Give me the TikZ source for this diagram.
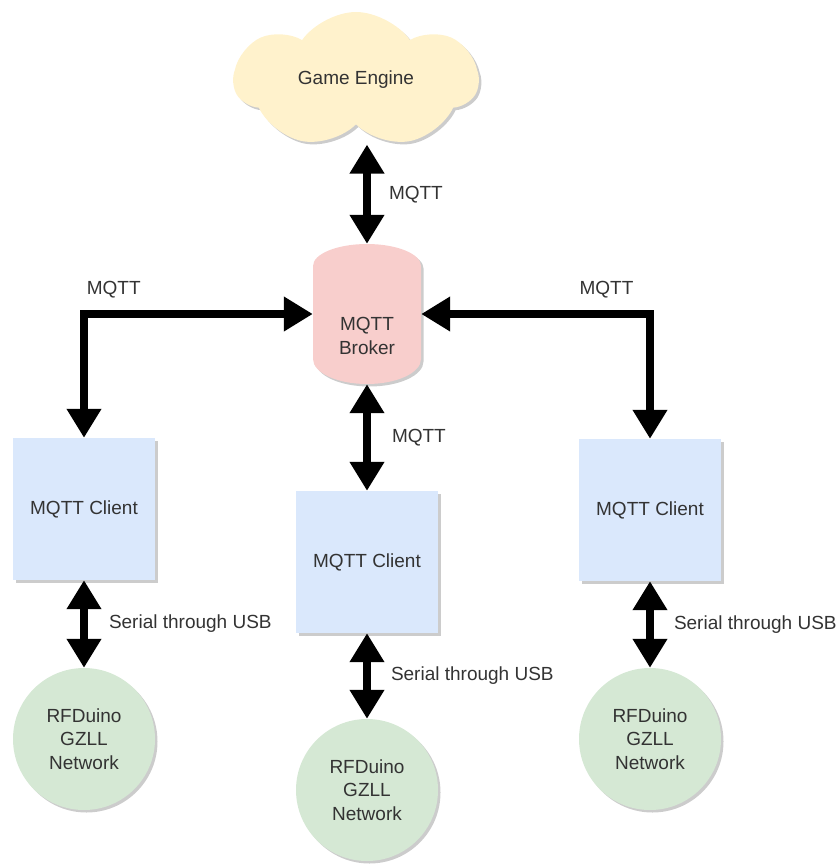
\documentclass[tikz,border=0pt]{standalone}
\usepackage{fontspec}
\setmainfont{Liberation Sans}
\usetikzlibrary{arrows.meta,shapes.symbols,shadows}
\definecolor{cloudfill}{HTML}{FFF2CC}
\definecolor{brokerfill}{HTML}{F8CECC}
\definecolor{clientfill}{HTML}{DAE8FC}
\definecolor{netfill}{HTML}{D5E8D4}
\definecolor{txtgray}{HTML}{333333}
\tikzset{
  every node/.style={font=\fontsize{19}{23.5}\selectfont, text=txtgray},
  shade/.style={drop shadow={shadow xshift=2.5pt, shadow yshift=-2.5pt, fill=black, opacity=.2}},
  client/.style={rectangle, fill=clientfill, shade, minimum width=142pt, minimum height=142pt, inner sep=0pt},
  net/.style={circle, fill=netfill, shade, minimum size=142pt, inner sep=0pt, align=center},
  holder/.style={rectangle, minimum width=108pt, minimum height=140pt, inner sep=0pt},
  duo/.style={line width=8pt, {Triangle[length=29pt,width=33pt]}-{Triangle[length=29pt,width=33pt]}},
  lbl/.style={inner sep=0pt}
}
\begin{document}
\begin{tikzpicture}[x=1pt,y=-1pt]
\useasboundingbox (0,0) rectangle (836,864);
\node[cloud, cloud puffs=7, cloud puff arc=110, aspect=1.8, minimum width=244pt, minimum height=136pt, fill=cloudfill, shade] (E) at (356,80) {Game Engine};
% broker
\fill[brokerfill, shade] (313,266) arc[start angle=180, end angle=360, x radius=54, y radius=22]
  -- (421,359) arc[start angle=0, end angle=180, x radius=54, y radius=25] -- cycle;
\node[holder, label={[align=center, yshift=-22pt]center:MQTT\\Broker}] (B) at (367,314) {};
% clients
\node[client] (CL) at (84,509) {MQTT Client};
\node[client] (CM) at (367,562) {MQTT Client};
\node[client] (CR) at (650,510) {MQTT Client};
% networks
\node[net] (NL) at (84,739) {RFDuino\\GZLL\\Network};
\node[net] (NM) at (367,790) {RFDuino\\GZLL\\Network};
\node[net] (NR) at (650,739) {RFDuino\\GZLL\\Network};
% links
\draw[duo] ([yshift=-20pt]B.north |- E.south) -- (B.north) node[lbl, midway, right=18pt] {MQTT};
\draw[duo] (B.west) -| (CL.north) node[lbl, pos=.435, above=12pt] {MQTT};
\draw[duo] (B.east) -| (CR.north) node[lbl, pos=.405, above=12pt] {MQTT};
\draw[duo] (B.south) -- (CM.north) node[lbl, midway, right=21pt] {MQTT};
\draw[duo] (CL.south) -- (NL.north) node[lbl, midway, right=21pt] {Serial through USB};
\draw[duo] (CM.south) -- (NM.north) node[lbl, midway, right=20pt] {Serial through USB};
\draw[duo] (CR.south) -- (NR.north) node[lbl, midway, right=20pt] {Serial through USB};
\end{tikzpicture}
\end{document}
